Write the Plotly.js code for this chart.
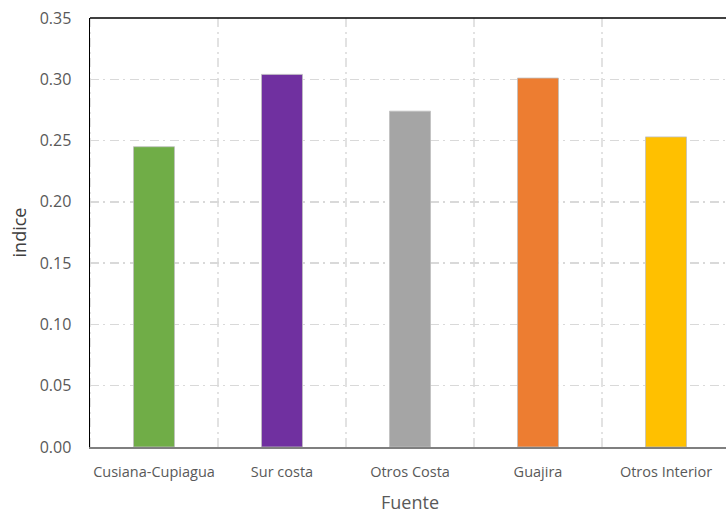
<!DOCTYPE html>
<html>
<head>
<meta charset="utf-8">
<script src="https://cdn.plot.ly/plotly-3.0.1.min.js"></script>
<style>
  html, body { margin: 0; padding: 0; overflow: hidden; background: #fff; }
  #chart { width: 740px; height: 514px; }
</style>
</head>
<body>
<div id="chart"></div>
<script>
// Índice por fuente de gas
const fuentes = ['Cusiana-Cupiagua', 'Sur costa', 'Otros Costa', 'Guajira', 'Otros Interior'];
const indice = [0.245, 0.304, 0.274, 0.301, 0.253];
const colores = ['#70ad47', '#7030a0', '#a5a5a5', '#ed7d31', '#ffc000'];
const yTicks = [0, 0.05, 0.10, 0.15, 0.20, 0.25, 0.30, 0.35];

const gridDash = '9px,4px,2px,5px';
const font = 'Open Sans, Noto Sans, sans-serif';

// vertical grid lines sit between categories
const shapes = [];
for (let i = 0; i <= fuentes.length; i++) {
  shapes.push({
    type: 'line', layer: 'below', xref: 'x', yref: 'paper',
    x0: i - 0.5, x1: i - 0.5, y0: 0, y1: 1,
    line: { color: '#d9d9d9', width: 1.5, dash: gridDash }
  });
}
// dark frame line along the top of the plot
shapes.push({
  type: 'line', layer: 'above', xref: 'paper', yref: 'paper',
  x0: 0, x1: 1, y0: 1, y1: 1,
  line: { color: '#000000', width: 1.5 }
});

const trace = {
  type: 'bar',
  x: fuentes,
  y: indice,
  width: 0.32,
  marker: { color: colores, line: { color: '#bfbfbf', width: 0.8 } },
  hoverinfo: 'x+y'
};

const layout = {
  width: 740, height: 514,
  margin: { l: 90, r: 10, t: 18, b: 67 },
  paper_bgcolor: '#ffffff', plot_bgcolor: '#ffffff',
  showlegend: false,
  shapes: shapes,
  xaxis: {
    type: 'category',
    range: [-0.5, fuentes.length - 0.5],
    showgrid: false,
    showline: true, linecolor: '#7f7f7f', linewidth: 2,
    ticks: '', ticklabelstandoff: 11,
    tickfont: { family: font, size: 14.5, color: '#595959' },
    title: { text: 'Fuente', font: { family: font, size: 18, color: '#595959' }, standoff: 19 }
  },
  yaxis: {
    range: [0, 0.35],
    tickvals: yTicks,
    tickformat: '.2f',
    showgrid: true, gridcolor: '#d9d9d9', gridwidth: 1.5, griddash: gridDash,
    zeroline: false,
    showline: true, linecolor: '#000000', linewidth: 1.5,
    ticks: '', ticklabelstandoff: 14,
    tickfont: { family: font, size: 16, color: '#595959' },
    title: { text: 'indice', font: { family: font, size: 18, color: '#404040' }, standoff: 8 }
  }
};

Plotly.newPlot('chart', [trace], layout, { displayModeBar: false, staticPlot: true });
</script>
</body>
</html>
